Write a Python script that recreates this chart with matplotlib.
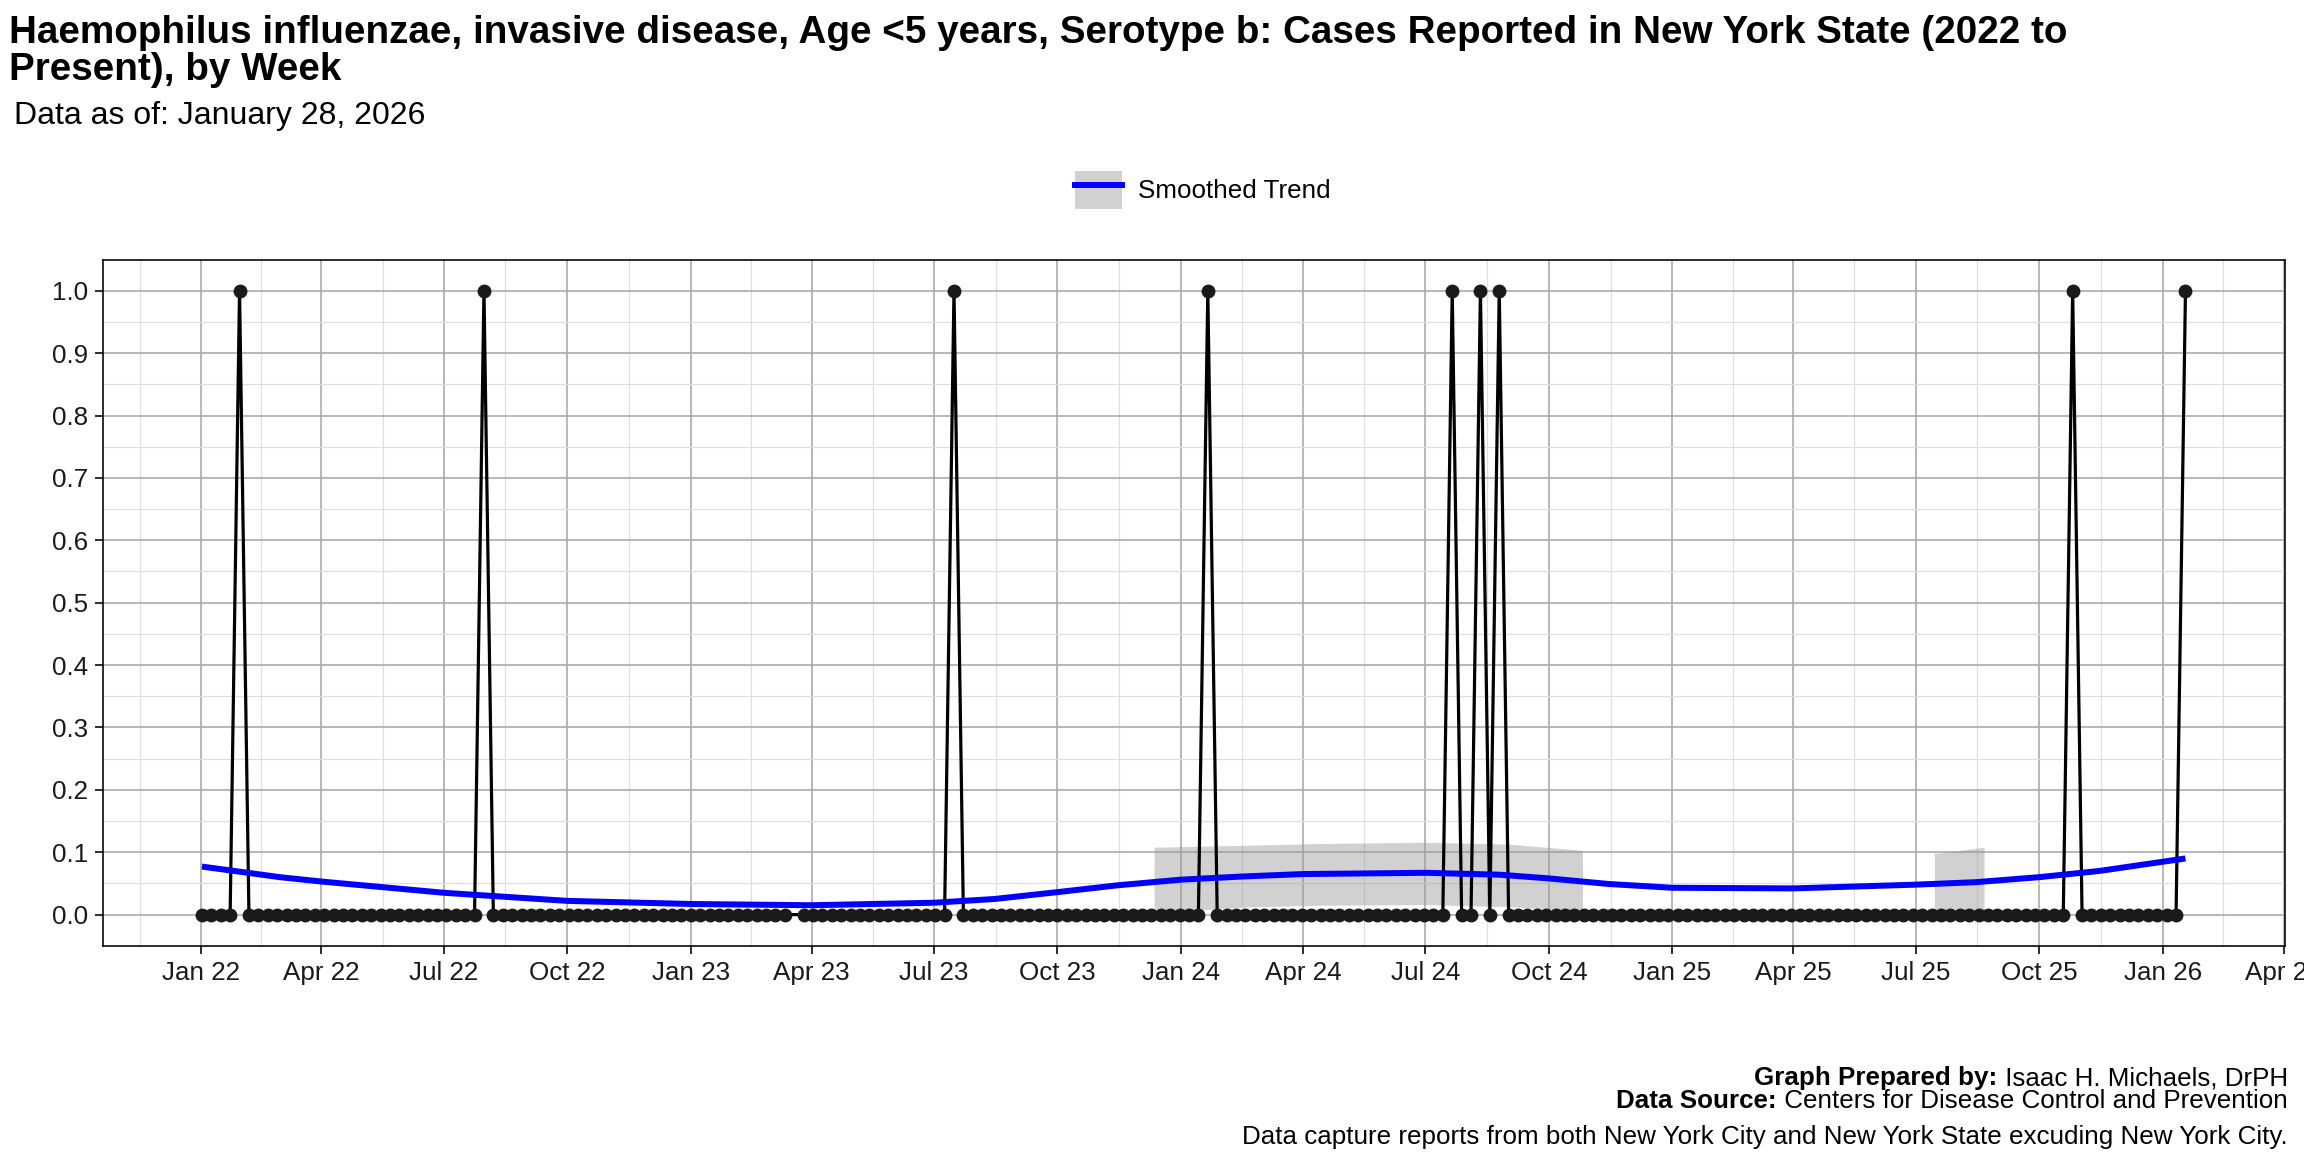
import matplotlib
matplotlib.use("Agg")
import matplotlib.pyplot as plt
import matplotlib.dates as mdates
from matplotlib.patches import Patch
from matplotlib.lines import Line2D
import pandas as pd
import numpy as np

plt.rcParams['font.family'] = ['Liberation Sans', 'DejaVu Sans']

# weekly case counts (week start dates, Sundays); None = week missing from data
cases_2022 = [0, 0, 0, 0, 1, 0, 0, 0, 0, 0, 0, 0, 0, 0, 0, 0, 0, 0, 0, 0, 0, 0, 0, 0, 0, 0,
              0, 0, 0, 0, 1, 0, 0, 0, 0, 0, 0, 0, 0, 0, 0, 0, 0, 0, 0, 0, 0, 0, 0, 0, 0, 0]
cases_2023 = [0, 0, 0, 0, 0, 0, 0, 0, 0, 0, 0, None, 0, 0, 0, 0, 0, 0, 0, 0, 0, 0, 0, 0, 0, 0,
              0, 0, 1, 0, 0, 0, 0, 0, 0, 0, 0, 0, 0, 0, 0, 0, 0, 0, 0, 0, 0, 0, 0, 0, 0, 0, 0]
cases_2024 = [0, 0, 1, 0, 0, 0, 0, 0, 0, 0, 0, 0, 0, 0, 0, 0, 0, 0, 0, 0, 0, 0, 0, 0, 0, 0,
              0, 0, 1, 0, 0, 1, 0, 1, 0, 0, 0, 0, 0, 0, 0, 0, 0, 0, 0, 0, 0, 0, 0, 0, 0, 0]
cases_2025 = [0, 0, 0, 0, 0, 0, 0, 0, 0, 0, 0, 0, 0, 0, 0, 0, 0, 0, 0, 0, 0, 0, 0, 0, 0, 0,
              0, 0, 0, 0, 0, 0, 0, 0, 0, 0, 0, 0, 0, 0, 0, 0, 1, 0, 0, 0, 0, 0, 0, 0, 0, 0]
cases_2026 = [0, 0, 1]

all_cases = cases_2022 + cases_2023 + cases_2024 + cases_2025 + cases_2026
weeks = pd.date_range("2022-01-02", periods=len(all_cases), freq="7D")
df = pd.DataFrame({"week": weeks, "cases": all_cases})
df = df.dropna()

# smoothed trend
smooth_dates = pd.to_datetime([
    "2022-01-02", "2022-03-01", "2022-04-01", "2022-07-01", "2022-10-01",
    "2023-01-01", "2023-04-01", "2023-07-01", "2023-08-15", "2023-10-01",
    "2023-11-15", "2024-01-01", "2024-02-15", "2024-04-01", "2024-07-01",
    "2024-08-25", "2024-10-01", "2024-11-15", "2025-01-01", "2025-04-01",
    "2025-07-01", "2025-08-15", "2025-10-01", "2025-11-15", "2026-01-18"])
smooth_vals = [0.077, 0.060, 0.053, 0.035, 0.022,
               0.017, 0.015, 0.019, 0.025, 0.036,
               0.047, 0.056, 0.061, 0.065, 0.067,
               0.064, 0.058, 0.049, 0.043, 0.042,
               0.048, 0.052, 0.060, 0.070, 0.090]

# visible pieces of the confidence band
band1_dates = pd.to_datetime(["2023-12-12", "2024-02-15", "2024-04-15", "2024-07-01",
                              "2024-09-01", "2024-10-26"])
band1_lo = [0.002, 0.012, 0.015, 0.016, 0.013, 0.005]
band1_hi = [0.108, 0.111, 0.114, 0.116, 0.113, 0.103]
band2_dates = pd.to_datetime(["2025-07-15", "2025-08-03", "2025-08-21"])
band2_lo = [0.0, 0.0, 0.0]
band2_hi = [0.098, 0.103, 0.108]

fig = plt.figure(figsize=(16, 8), dpi=144)
ax = fig.add_axes([0.0446, 0.179, 0.947, 0.5957])

ax.fill_between(band1_dates, band1_lo, band1_hi, color="#999999", alpha=0.45, lw=0, zorder=2)
ax.fill_between(band2_dates, band2_lo, band2_hi, color="#999999", alpha=0.45, lw=0, zorder=2)
ax.plot(df["week"], df["cases"], color="black", lw=1.6, zorder=3)
ax.scatter(df["week"], df["cases"], s=48, color="#1a1a1a", zorder=4, lw=0)
ax.plot(smooth_dates, smooth_vals, color="blue", lw=3.0, zorder=5, solid_capstyle="butt")

span = df["week"].iloc[-1] - df["week"].iloc[0]
ax.set_xlim(df["week"].iloc[0] - span * 0.05, df["week"].iloc[-1] + span * 0.05)
ax.set_ylim(-0.05, 1.05)

major = pd.date_range("2022-01-01", "2026-04-01", freq="3MS")
ax.set_xticks(major)
ax.xaxis.set_major_formatter(mdates.DateFormatter("%b %y"))
mnum = mdates.date2num(major)
minor = list((mnum[:-1] + mnum[1:]) / 2) + [mnum[0] - (mnum[1] - mnum[0]) / 2]
ax.set_xticks(minor, minor=True)
ax.set_yticks(np.arange(0, 1.01, 0.1))
ax.set_yticklabels([f"{v:.1f}" for v in np.arange(0, 1.01, 0.1)])
ax.set_yticks(np.arange(0.05, 1.0, 0.1), minor=True)

ax.grid(which="major", color="#a8a8a8", lw=0.8)
ax.grid(which="minor", color="#dedede", lw=0.6)
ax.set_axisbelow(True)
ax.tick_params(which="major", length=4, width=0.8, color="black", labelsize=13, labelcolor="#1a1a1a")
ax.tick_params(which="minor", length=0)
for s in ax.spines.values():
    s.set_linewidth(0.8)
    s.set_color("black")

fig.text(0.004, 0.987, "Haemophilus influenzae, invasive disease, Age <5 years, Serotype b: Cases Reported in New York State (2022 to\nPresent), by Week",
         fontsize=19.3, fontweight="bold", va="top", ha="left", linespacing=1.03)
fig.text(0.006, 0.899, "Data as of: January 28, 2026", fontsize=16, va="center", ha="left")

handle = (Patch(facecolor="#999999", alpha=0.45, lw=0), Line2D([], [], color="blue", lw=3.0))
fig.legend([handle], ["Smoothed Trend"], loc="center", bbox_to_anchor=(0.522, 0.835),
           frameon=False, fontsize=13, handlelength=1.8, handleheight=1.9, handletextpad=0.6)

fig.canvas.draw()
r = fig.canvas.get_renderer()
inv = fig.transFigure.inverted()
for y, bold, rest in [(0.064, "Graph Prepared by:", " Isaac H. Michaels, DrPH"),
                      (0.044, "Data Source:", " Centers for Disease Control and Prevention")]:
    t = fig.text(0.993, y, rest, fontsize=13, ha="right", va="center")
    bb = inv.transform(t.get_window_extent(r))
    fig.text(bb[0][0], y, bold, fontsize=13, fontweight="bold", ha="right", va="center")
fig.text(0.993, 0.003, "Data capture reports from both New York City and New York State excuding New York City.",
         fontsize=13, ha="right", va="bottom")

fig.savefig("out.png", dpi=144)
